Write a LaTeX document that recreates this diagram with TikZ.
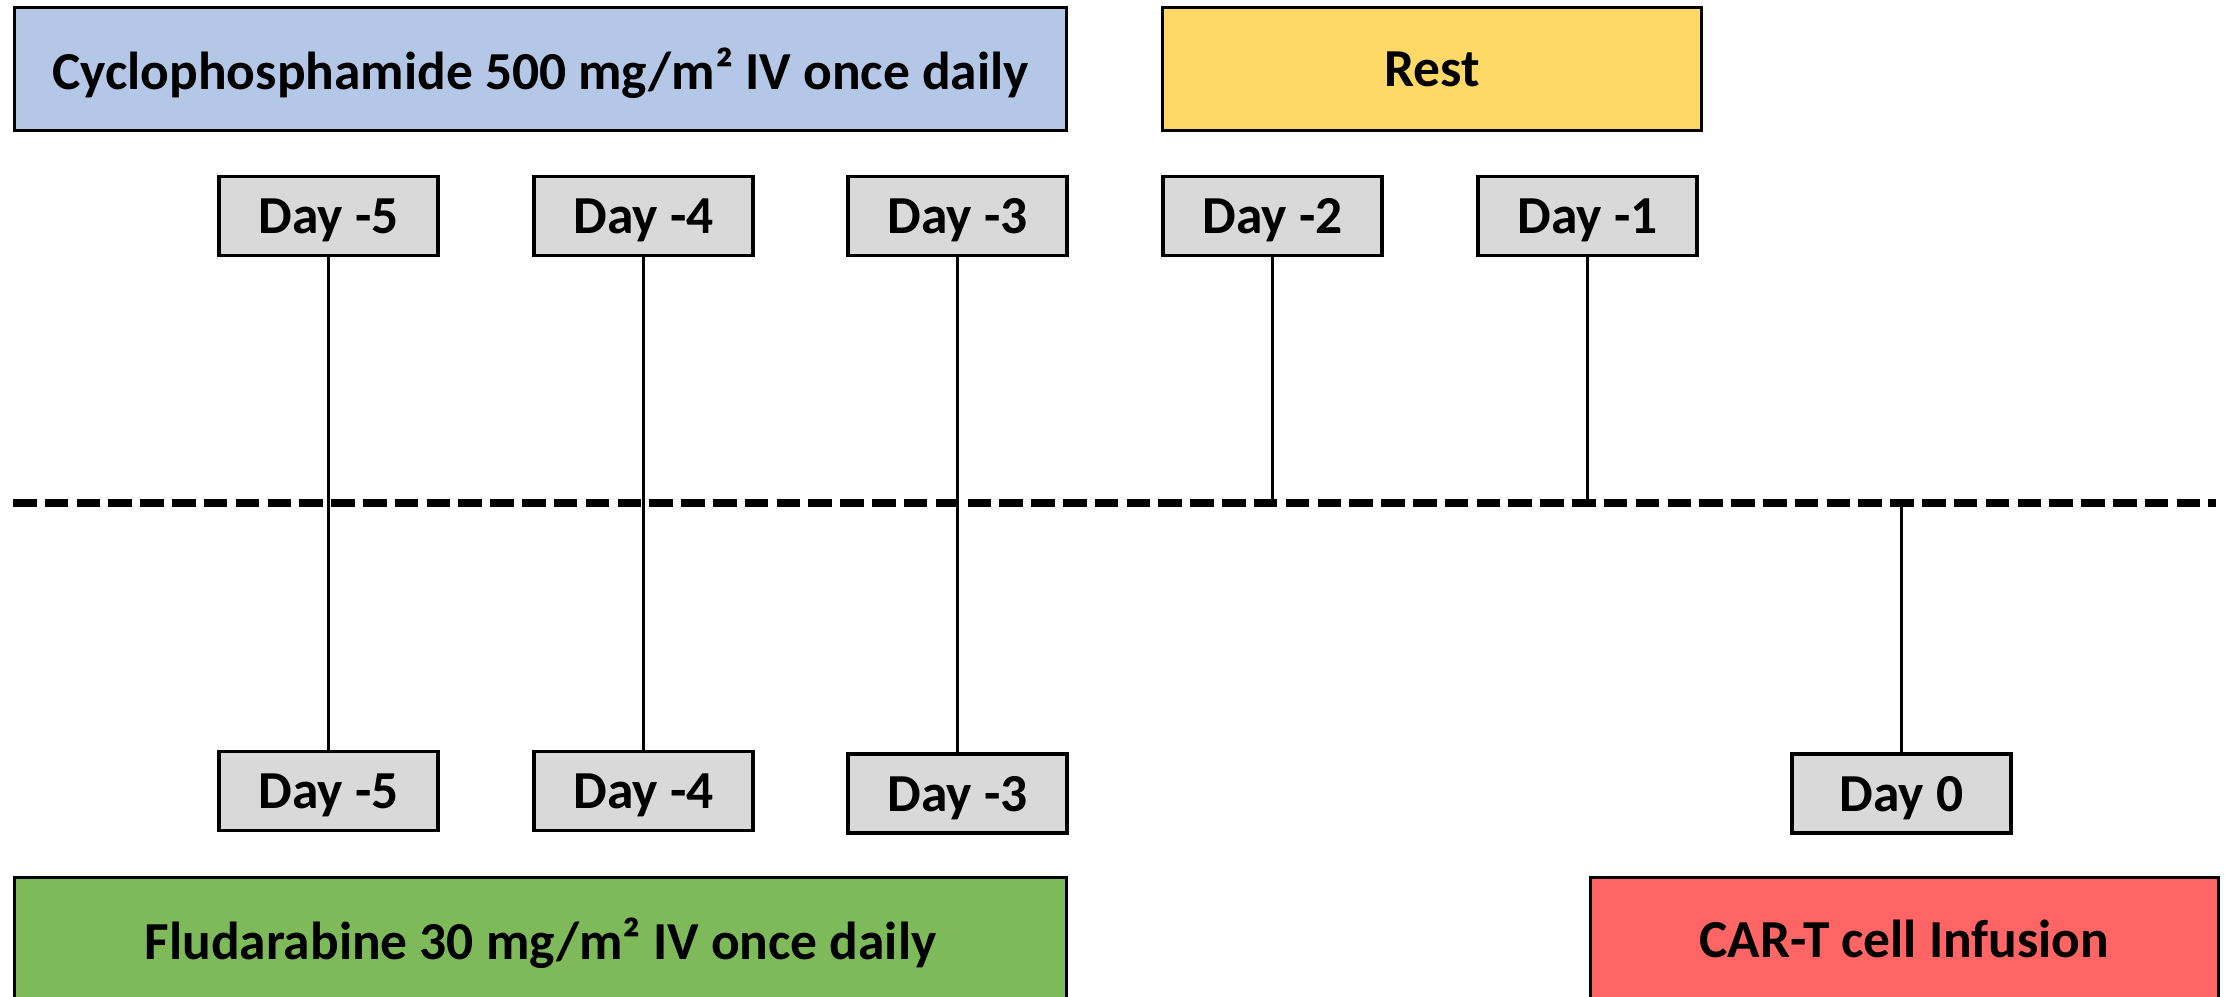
\documentclass[tikz,border=0pt]{standalone}
\usepackage{fontspec}
\setmainfont{Carlito}
\definecolor{cycblue}{HTML}{B4C7E7}
\definecolor{restyel}{HTML}{FFD966}
\definecolor{daygray}{HTML}{D9D9D9}
\definecolor{fludgreen}{HTML}{7FBA5A}
\definecolor{carred}{HTML}{FF6565}
\tikzset{
  x=0.01cm, y=-0.01cm,
  bigbox/.style={draw=black, line width=0.035cm, inner sep=0pt, minimum height=1.225cm,
     text depth=0pt, font=\fontsize{15.2}{17}\selectfont\bfseries},
  daybox/.style={draw=black, fill=daygray, line width=0.035cm, inner sep=0pt,
     minimum width=2.185cm, minimum height=0.785cm, text depth=0pt,
     font=\fontsize{15.2}{17}\selectfont\bfseries},
  tick/.style={line width=0.03cm},
  axis/.style={line width=0.08cm, dash pattern=on 0.235cm off 0.083cm}
}
\begin{document}
\begin{tikzpicture}
\useasboundingbox (0,0) rectangle (2233,996);
\clip (0,0) rectangle (2233,996);
% top bars
\node[bigbox, fill=cycblue, minimum width=10.515cm] (cyc) at (540.5,69) {Cyclophosphamide 500 mg/m² IV once daily};
\node[bigbox, fill=restyel, minimum width=5.385cm] (rest) at (1432,69) {Rest};
% top day boxes
\node[daybox] (t5) at (328.5,216) {Day -5};
\node[daybox] (t4) at (643.5,216) {Day -4};
\node[daybox] (t3) at (957.5,216) {Day -3};
\node[daybox] (t2) at (1272.5,216) {Day -2};
\node[daybox] (t1) at (1587.5,216) {Day -1};
% bottom day boxes
\node[daybox] (b5) at (328.5,791) {Day -5};
\node[daybox] (b4) at (643.5,791) {Day -4};
\node[daybox] (b3) at (957.5,793.5) {Day -3};
\node[daybox] (b0) at (1901.5,793.5) {Day 0};
% bottom bars
\node[bigbox, fill=fludgreen, minimum width=10.515cm] (flu) at (540.5,939) {Fludarabine 30 mg/m² IV once daily};
\node[bigbox, fill=carred, minimum width=6.275cm] (car) at (1904.5,939) {CAR-T cell Infusion};
% axis
\coordinate (axL) at (13,503);
\coordinate (axR) at (2216,503);
\coordinate (a2) at (1272.5,503);
\coordinate (a1) at (1587.5,503);
\coordinate (a0) at (1901.5,503);
% ticks
\draw[tick] (t5.south) -- (b5.north);
\draw[tick] (t4.south) -- (b4.north);
\draw[tick] (t3.south) -- (b3.north);
\draw[tick] (t2.south) -- (a2);
\draw[tick] (t1.south) -- (a1);
\draw[tick] (a0) -- (b0.north);
\draw[axis] (axL) -- (axR);
\end{tikzpicture}
\end{document}
